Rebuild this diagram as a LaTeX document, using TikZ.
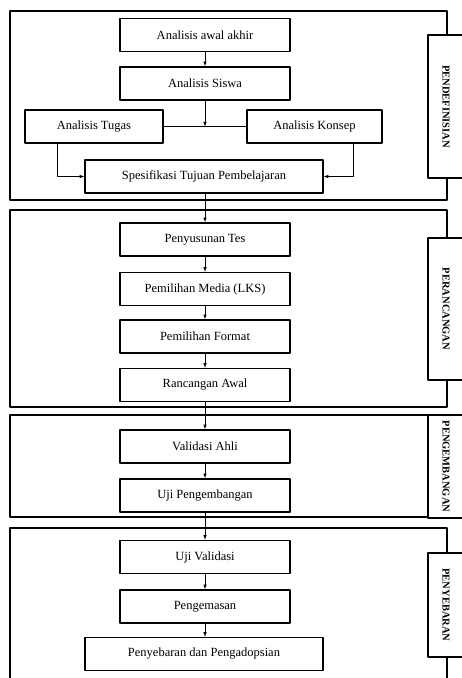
\documentclass[tikz,border=0pt]{standalone}
\usepackage{fontspec}
\setmainfont{Liberation Serif}
\usetikzlibrary{arrows,positioning}
\tikzset{box/.style={
            draw,
            fill=white,
            line width=1.4pt,
            inner sep=0pt,
            minimum width=170pt,
            minimum height=33pt,
            font=\fontsize{12.5}{14}\selectfont
        },
        widebox/.style={
            box,
            minimum width=238pt
        },
        tagbox/.style={
            draw,
            fill=white,
            line width=1.2pt,
            inner sep=0pt,
            rotate=-90,
            minimum height=36pt,
            font=\fontsize{10.5}{12}\selectfont\bfseries
        },
        frame/.style={
            line width=1.3pt
        },
        flow/.style={
            >=latex,
            ->,
            line width=0.6pt
        }
    }

\begin{document}
\begin{tikzpicture}[x=1pt,y=-1pt,line join=round]
\useasboundingbox (0,0) rectangle (462,678);
% frames
\draw[frame] (10,11) rectangle (447,200);
\draw[frame] (10,210) rectangle (447,407);
\draw[frame] (10,415) rectangle (447,517);
\draw[frame] (10,678)--(10,528)--(447,528)--(447,678);
% side tags
\node[tagbox,minimum width=143pt] (tdef) at (446,106.5) {PENDEFINISIAN};
\node[tagbox,minimum width=142pt] (trancang) at (446,309) {PERANCANGAN};
\node[tagbox,minimum width=103pt] (tkembang) at (446,466.5) {PENGEMBANGAN};
\node[tagbox,minimum width=104pt] (tsebar) at (446,605) {PENYEBARAN};
% pendefinisian
\node[box] (awal) at (205,35) {Analisis awal akhir};
\node[box] (siswa) at (205,83.5) {Analisis Siswa};
\node[box,minimum width=138pt] (tugas) at (94,126.5) {Analisis Tugas};
\node[box,minimum width=135pt] (konsep) at (314.5,126.5) {Analisis Konsep};
\node[widebox] (spes) at (204,176.5) {Spesifikasi Tujuan Pembelajaran};
% perancangan
\node[box] (tes) at (205,239.5) {Penyusunan Tes};
\node[box] (media) at (205,289) {Pemilihan Media (LKS)};
\node[box] (format) at (205,336.5) {Pemilihan Format};
\node[box] (rancang) at (205,385) {Rancangan Awal};
% pengembangan
\node[box] (ahli) at (205,446.5) {Validasi Ahli};
\node[box] (ujikembang) at (205,495.5) {Uji Pengembangan};
% penyebaran
\node[box] (ujivalid) at (205,557) {Uji Validasi};
\node[box] (kemas) at (205,606.5) {Pengemasan};
\node[widebox] (adopsi) at (204,654) {Penyebaran dan Pengadopsian};
% connectors
\coordinate (join) at (siswa.south |- tugas.east);
\draw[line width=1.4pt] (tugas.east)--(konsep.west);
\draw[flow] (awal)--(siswa);
\draw[flow] (siswa)--(join);
\draw[flow] ([xshift=-37pt]tugas.south) |- (spes.west);
\draw[flow] ([xshift=38.5pt]konsep.south) |- (spes.east);
\draw[flow] (spes.south -| tes.north)--(tes.north);
\draw[flow] (tes)--(media);
\draw[flow] (media)--(format);
\draw[flow] (format)--(rancang);
\draw[flow] (rancang)--(ahli);
\draw[flow] (ahli)--(ujikembang);
\draw[flow] (ujikembang)--(ujivalid);
\draw[flow] (ujivalid)--(kemas);
\draw[flow] (kemas.south)--(kemas.south |- adopsi.north);
\end{tikzpicture}
\end{document}
